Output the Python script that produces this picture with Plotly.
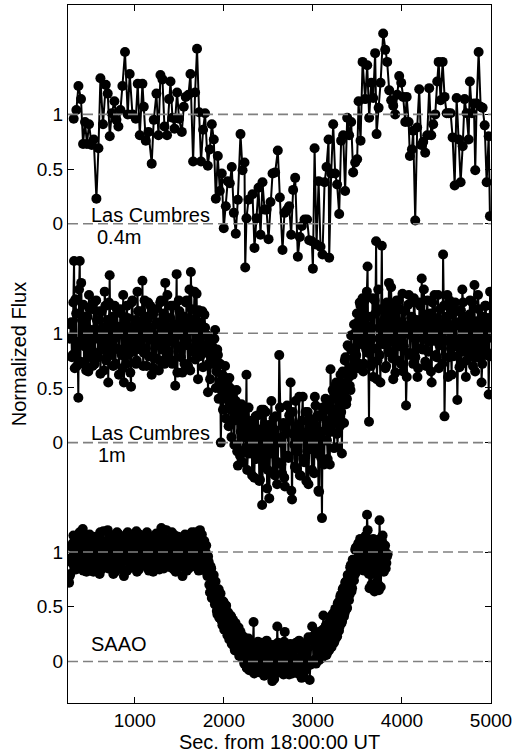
import plotly.graph_objects as go

# ---------------- data ----------------
# Las Cumbres 0.4m (offset +4 in the stacked plot)
t_lc04 = [314, 344, 367, 396, 419, 441, 463, 486, 516, 539,
          569, 592, 614, 643, 674, 696, 719, 741, 771, 794,
          816, 839, 861, 890, 921, 943, 974, 1011, 1033, 1056,
          1086, 1101, 1123, 1153, 1190, 1213, 1243, 1266, 1288, 1311,
          1333, 1362, 1385, 1401, 1423, 1446, 1475, 1497, 1528, 1550,
          1572, 1603, 1625, 1655, 1677, 1699, 1722, 1744, 1767, 1789,
          1820, 1842, 1865, 1887, 1910, 1932, 1955, 1977, 1999, 2022,
          2044, 2067, 2089, 2112, 2134, 2157, 2187, 2210, 2232, 2240,
          2254, 2277, 2322, 2344, 2367, 2389, 2412, 2434, 2457, 2479,
          2502, 2524, 2547, 2576, 2606, 2629, 2659, 2681, 2711, 2733,
          2756, 2778, 2801, 2831, 2853, 2876, 2906, 2935, 2958, 2988,
          3000, 3019, 3041, 3064, 3086, 3108, 3131, 3153, 3176, 3183,
          3205, 3228, 3250, 3272, 3295, 3317, 3340, 3362, 3385, 3407,
          3430, 3452, 3475, 3497, 3513, 3535, 3558, 3587, 3610, 3632,
          3655, 3677, 3699, 3715, 3738, 3760, 3789, 3812, 3834, 3857,
          3879, 3902, 3924, 3947, 3969, 3992, 4014, 4037, 4053, 4075,
          4089, 4112, 4126, 4149, 4171, 4194, 4216, 4239, 4261, 4284,
          4306, 4329, 4351, 4374, 4396, 4412, 4434, 4457, 4479, 4502,
          4524, 4547, 4569, 4592, 4614, 4637, 4659, 4682, 4704, 4726,
          4749, 4763, 4786, 4808, 4823, 4839, 4861, 4884, 4906, 4929,
          4951, 4974, 4988]
f_lc04 = [0.96, 1.04, 1.26, 1.14, 0.73, 0.93, 0.73, 0.91, 0.72, 0.77,
          0.23, 0.69, 1.33, 0.91, 1.27, 1.19, 0.80, 1.01, 1.12, 0.95,
          0.89, 1.04, 1.26, 1.57, 1.00, 1.37, 1.00, 0.96, 1.28, 0.81,
          1.28, 1.07, 0.76, 0.84, 0.55, 0.95, 1.19, 0.81, 1.36, 1.32,
          0.89, 0.81, 1.14, 1.30, 0.97, 0.87, 1.20, 0.96, 0.84, 1.07,
          1.16, 1.18, 1.37, 0.57, 1.20, 1.60, 1.02, 0.57, 0.86, 1.01,
          0.53, 0.68, 0.91, 0.77, 0.23, 0.62, 0.30, 0.46, -0.04, 0.16,
          0.39, 0.37, 0.52, 0.10, -0.09, 0.22, 0.82, 0.49, 0.56, -0.40,
          0.05, 0.22, 0.27, -0.22, 0.05, 0.33, -0.10, 0.38, 0.13, 0.13,
          -0.14, 0.20, 0.46, 0.47, 0.67, 0.24, -0.24, 0.10, 0.13, 0.16,
          -0.10, 0.31, 0.42, -0.30, -0.12, -0.02, 0.04, 0.04, -0.15, -0.16,
          -0.41, 0.69, -0.19, 0.39, -0.21, -0.28, 0.38, 0.52, 0.77, -0.31,
          0.46, 0.91, 0.46, 0.36, 0.09, 0.76, 0.81, 0.30, 0.97, 0.81,
          0.93, 0.47, 0.56, 0.59, 1.12, 0.76, 1.48, 1.14, 1.45, 0.97,
          1.29, 1.15, 1.56, 0.82, 1.06, 1.29, 1.74, 1.59, 1.48, 1.22,
          1.13, 1.08, 1.00, 1.18, 1.35, 1.29, 1.16, 0.93, 1.16, 0.93,
          0.62, 0.68, 0.85, 0.03, 0.88, 1.23, 0.72, 0.75, 0.65, 0.81,
          1.24, 0.81, 0.91, 1.00, 1.30, 1.48, 1.13, 1.48, 1.16, 1.01,
          1.01, 1.01, 0.79, 0.35, 1.15, 0.77, 0.38, 0.71, 1.14, 1.01,
          0.77, 1.30, 1.01, 1.10, 0.49, 1.10, 1.57, 1.07, 1.06, 0.90,
          0.38, 0.80, 0.07]

# Las Cumbres 1m (offset +2), two interleaved sets of exposures
t_lc1a = [270, 286, 302, 318, 334, 350, 366, 382, 398, 414,
          430, 446, 462, 478, 494, 510, 526, 542, 558, 574,
          590, 606, 622, 638, 654, 670, 686, 702, 718, 734,
          750, 766, 782, 798, 814, 830, 846, 862, 878, 894,
          910, 926, 942, 958, 974, 990, 1006, 1022, 1038, 1054,
          1070, 1086, 1102, 1118, 1134, 1150, 1166, 1182, 1198, 1214,
          1230, 1246, 1262, 1278, 1294, 1310, 1326, 1342, 1358, 1374,
          1390, 1406, 1422, 1438, 1454, 1470, 1486, 1502, 1518, 1534,
          1550, 1566, 1582, 1598, 1614, 1630, 1646, 1662, 1678, 1694,
          1710, 1726, 1742, 1758, 1774, 1790, 1806, 1822, 1838, 1854,
          1870, 1886, 1902, 1918, 1934, 1950, 1966, 1982, 1998, 2014,
          2030, 2046, 2062, 2078, 2094, 2110, 2126, 2142, 2158, 2174,
          2190, 2206, 2222, 2238, 2254, 2270, 2286, 2302, 2318, 2334,
          2350, 2366, 2382, 2398, 2414, 2430, 2446, 2462, 2478, 2494,
          2510, 2526, 2542, 2558, 2574, 2590, 2606, 2622, 2638, 2654,
          2670, 2686, 2702, 2718, 2734, 2750, 2766, 2782, 2798, 2814,
          2830, 2846, 2862, 2878, 2894, 2910, 2926, 2942, 2958, 2974,
          2990, 3006, 3022, 3038, 3054, 3070, 3086, 3102, 3118, 3134,
          3150, 3166, 3182, 3198, 3214, 3230, 3246, 3262, 3278, 3294,
          3310, 3326, 3342, 3358, 3374, 3390, 3406, 3422, 3438, 3454,
          3470, 3486, 3502, 3518, 3534, 3550, 3566, 3582, 3598, 3614,
          3630, 3646, 3662, 3678, 3694, 3710, 3726, 3742, 3758, 3774,
          3790, 3806, 3822, 3838, 3854, 3870, 3886, 3902, 3918, 3934,
          3950, 3966, 3982, 3998, 4014, 4030, 4046, 4062, 4078, 4094,
          4110, 4126, 4142, 4158, 4174, 4190, 4206, 4222, 4238, 4254,
          4270, 4286, 4302, 4318, 4334, 4350, 4366, 4382, 4398, 4414,
          4430, 4446, 4462, 4478, 4494, 4510, 4526, 4542, 4558, 4574,
          4590, 4606, 4622, 4638, 4654, 4670, 4686, 4702, 4718, 4734,
          4750, 4766, 4782, 4798, 4814, 4830, 4846, 4862, 4878, 4894,
          4910, 4926, 4942, 4958, 4974, 4990]
f_lc1a = [0.95, 1.10, 0.80, 1.66, 1.31, 0.70, 0.41, 1.66, 1.46, 0.90,
          0.72, 1.15, 1.05, 0.65, 1.22, 0.88, 0.70, 1.28, 0.95, 1.12,
          0.78, 1.20, 0.85, 1.05, 0.66, 1.25, 0.92, 0.55, 1.53, 0.80,
          1.15, 0.95, 0.72, 1.22, 1.00, 0.85, 1.18, 0.68, 0.55, 1.10,
          1.25, 0.80, 1.05, 0.51, 1.30, 0.90, 1.12, 0.75, 1.20, 0.98,
          0.85, 1.48, 0.82, 1.15, 0.70, 1.28, 0.95, 1.05, 0.78, 0.68,
          1.22, 0.90, 1.10, 0.75, 1.30, 0.85, 1.18, 1.46, 0.80, 1.05,
          0.92, 1.25, 0.72, 1.08, 0.52, 1.54, 0.88, 1.20, 0.78, 0.64,
          1.15, 0.95, 1.30, 0.70, 1.40, 1.56, 0.85, 1.12, 0.76, 1.36,
          0.58, 1.10, 0.90, 1.20, 0.82, 1.05, 0.88, 0.46, 0.95, 0.78,
          0.88, 0.72, 1.03, 0.65, 0.80, 0.55, 0.00, 0.62, 0.45, 0.70,
          0.40, 0.52, 0.59, 0.30, 0.45, 0.20, 0.35, 0.48, -0.21, 0.25,
          0.10, 0.32, 0.05, 0.18, 0.62, -0.10, 0.15, -0.05, -0.30, 0.20,
          0.05, -0.15, 0.25, -0.35, 0.10, -0.57, 0.30, -0.20, 0.08, -0.25,
          -0.51, 0.15, -0.10, 0.22, -0.30, 0.05, -0.18, 0.80, 0.00, -0.28,
          0.18, -0.40, 0.10, -0.12, 0.25, 0.55, -0.52, 0.08, -0.22, 0.15,
          -0.08, 0.42, -0.30, 0.20, -0.15, 0.05, -0.35, 0.28, -0.05, 0.12,
          -0.25, 0.18, 0.42, -0.10, 0.25, -0.45, 0.10, -0.69, 0.30, 0.02,
          0.20, -0.15, 0.30, 0.67, 0.10, 0.40, 0.20, 0.55, -0.04, 0.45,
          0.62, -0.10, 0.50, 0.75, 0.35, 0.89, 0.60, 0.48, 0.85, 0.70,
          1.00, 0.80, 1.10, 0.72, 1.25, 0.90, 0.65, 1.30, 0.85, 1.61,
          0.19, 1.15, 0.95, 0.60, 1.30, 1.84, 0.75, 1.05, 0.55, 1.80,
          0.90, 1.20, 0.70, 1.05, 1.46, 0.82, 1.10, 0.58, 1.25, 0.95,
          0.75, 1.30, 0.88, 1.10, 0.65, 1.20, 0.34, 1.00, 1.35, 0.80,
          1.15, 0.72, 1.28, 0.95, 0.60, 1.05, 1.25, 1.50, 0.85, 1.12,
          0.70, 1.30, 0.92, 1.18, 0.55, 1.05, 1.35, 0.80, 1.10, 0.68,
          1.22, 0.90, 1.72, 0.24, 1.15, 1.35, 0.78, 1.05, 0.62, 1.25,
          0.88, 1.10, 0.39, 1.20, 0.95, 0.72, 1.28, 1.00, 0.60, 1.15,
          0.85, 1.30, 0.95, 0.70, 1.44, 1.10, 0.78, 1.22, 0.90, 0.55,
          1.15, 0.80, 1.25, 0.95, 0.44, 1.38]
t_lc1b = [278, 294, 310, 326, 342, 358, 374, 390, 406, 422,
          438, 454, 470, 486, 502, 518, 534, 550, 566, 582,
          598, 614, 630, 646, 662, 678, 694, 710, 726, 742,
          758, 774, 790, 806, 822, 838, 854, 870, 886, 902,
          918, 934, 950, 966, 982, 998, 1014, 1030, 1046, 1062,
          1078, 1094, 1110, 1126, 1142, 1158, 1174, 1190, 1206, 1222,
          1238, 1254, 1270, 1286, 1302, 1318, 1334, 1350, 1366, 1382,
          1398, 1414, 1430, 1446, 1462, 1478, 1494, 1510, 1526, 1542,
          1558, 1574, 1590, 1606, 1622, 1638, 1654, 1670, 1686, 1702,
          1718, 1734, 1750, 1766, 1782, 1798, 1814, 1830, 1846, 1862,
          1878, 1894, 1910, 1926, 1942, 1958, 1974, 1990, 2006, 2022,
          2038, 2054, 2070, 2086, 2102, 2118, 2134, 2150, 2166, 2182,
          2198, 2214, 2230, 2246, 2262, 2278, 2294, 2310, 2326, 2342,
          2358, 2374, 2390, 2406, 2422, 2438, 2454, 2470, 2486, 2502,
          2518, 2534, 2550, 2566, 2582, 2598, 2614, 2630, 2646, 2662,
          2678, 2694, 2710, 2726, 2742, 2758, 2774, 2790, 2806, 2822,
          2838, 2854, 2870, 2886, 2902, 2918, 2934, 2950, 2966, 2982,
          2998, 3014, 3030, 3046, 3062, 3078, 3094, 3110, 3126, 3142,
          3158, 3174, 3190, 3206, 3222, 3238, 3254, 3270, 3286, 3302,
          3318, 3334, 3350, 3366, 3382, 3398, 3414, 3430, 3446, 3462,
          3478, 3494, 3510, 3526, 3542, 3558, 3574, 3590, 3606, 3622,
          3638, 3654, 3670, 3686, 3702, 3718, 3734, 3750, 3766, 3782,
          3798, 3814, 3830, 3846, 3862, 3878, 3894, 3910, 3926, 3942,
          3958, 3974, 3990, 4006, 4022, 4038, 4054, 4070, 4086, 4102,
          4118, 4134, 4150, 4166, 4182, 4198, 4214, 4230, 4246, 4262,
          4278, 4294, 4310, 4326, 4342, 4358, 4374, 4390, 4406, 4422,
          4438, 4454, 4470, 4486, 4502, 4518, 4534, 4550, 4566, 4582,
          4598, 4614, 4630, 4646, 4662, 4678, 4694, 4710, 4726, 4742,
          4758, 4774, 4790, 4806, 4822, 4838, 4854, 4870, 4886, 4902,
          4918, 4934, 4950, 4966, 4982, 4998]
f_lc1b = [1.08, 0.78, 1.28, 0.68, 1.18, 0.92, 1.40, 0.74, 1.12, 1.26,
          0.88, 0.66, 1.15, 1.35, 0.78, 1.03, 1.22, 0.72, 1.30, 0.82,
          1.00, 0.63, 1.20, 0.92, 1.38, 0.75, 1.12, 1.28, 0.86, 1.07,
          0.70, 1.25, 0.86, 1.06, 0.62, 1.22, 0.80, 1.35, 0.97, 0.72,
          1.14, 0.93, 0.64, 1.28, 0.83, 1.08, 0.72, 1.38, 0.88, 1.20,
          1.03, 0.70, 1.30, 0.86, 1.12, 0.79, 1.25, 0.62, 1.17, 0.94,
          0.77, 1.08, 0.66, 1.28, 0.92, 1.17, 0.72, 1.03, 1.35, 0.83,
          1.14, 0.75, 1.25, 0.93, 1.07, 0.64, 1.30, 0.86, 1.11, 0.97,
          0.72, 1.28, 0.89, 1.08, 0.66, 1.22, 0.83, 1.38, 0.93, 1.03,
          1.21, 0.79, 1.07, 0.69, 1.17, 0.89, 0.98, 0.72, 0.58, 0.84,
          0.72, 0.95, 0.50, 0.85, 0.40, 0.72, 0.48, 0.30, 0.60, 0.22,
          0.55, 0.15, 0.50, 0.05, 0.42, -0.02, 0.38, -0.08, 0.30, -0.12,
          0.35, -0.18, 0.28, -0.05, -0.25, 0.32, -0.10, 0.20, 0.08, -0.32,
          0.24, -0.12, 0.12, -0.34, 0.30, -0.02, -0.22, 0.28, -0.42, 0.16,
          -0.10, 0.38, -0.28, 0.12, 0.24, -0.38, 0.04, 0.32, -0.20, 0.15,
          -0.32, 0.08, 0.34, -0.14, 0.20, -0.44, 0.28, -0.02, 0.38, -0.24,
          0.16, -0.30, 0.08, 0.42, -0.18, 0.28, 0.03, -0.38, 0.22, -0.06,
          0.12, -0.28, 0.34, -0.02, -0.44, 0.24, -0.14, 0.32, -0.20, 0.40,
          0.02, 0.38, -0.20, 0.30, 0.48, -0.05, 0.52, 0.08, 0.45, 0.15,
          0.28, 0.65, 0.18, 0.78, 0.40, 0.88, 0.52, 0.98, 0.62, 1.08,
          0.78, 1.18, 0.68, 1.28, 0.92, 1.32, 0.72, 1.15, 1.38, 0.82,
          1.05, 0.70, 1.32, 0.86, 1.18, 0.58, 1.40, 0.80, 1.22, 0.92,
          1.12, 0.68, 1.28, 0.84, 1.03, 1.42, 0.77, 1.18, 0.64, 1.30,
          0.93, 1.22, 0.72, 1.36, 0.88, 1.07, 0.60, 1.26, 0.82, 1.14,
          0.97, 1.32, 0.78, 1.12, 0.68, 1.28, 0.86, 1.03, 1.40, 0.74,
          1.17, 0.83, 1.07, 0.65, 1.28, 0.93, 1.14, 0.78, 1.35, 0.89,
          1.07, 0.72, 1.25, 0.93, 1.11, 0.60, 1.30, 0.86, 1.17, 0.79,
          1.28, 0.89, 1.07, 0.69, 1.21, 1.40, 0.83, 1.14, 0.75, 1.03,
          1.17, 0.79, 1.28, 0.97, 0.65, 1.11, 1.35, 0.86, 1.07, 0.72,
          1.00, 1.25, 0.83, 1.14, 0.79, 1.03]

# SAAO (offset 0), two interleaved sets of exposures
t_saao_a = [262, 276, 290, 304, 318, 332, 346, 360, 374, 388,
            402, 416, 430, 444, 458, 472, 486, 500, 514, 528,
            542, 556, 570, 584, 598, 612, 626, 640, 654, 668,
            682, 696, 710, 724, 738, 752, 766, 780, 794, 808,
            822, 836, 850, 864, 878, 892, 906, 920, 934, 948,
            962, 976, 990, 1004, 1018, 1032, 1046, 1060, 1074, 1088,
            1102, 1116, 1130, 1144, 1158, 1172, 1186, 1200, 1214, 1228,
            1242, 1256, 1270, 1284, 1298, 1312, 1326, 1340, 1354, 1368,
            1382, 1396, 1410, 1424, 1438, 1452, 1466, 1480, 1494, 1508,
            1522, 1536, 1550, 1564, 1578, 1592, 1606, 1620, 1634, 1648,
            1662, 1676, 1690, 1704, 1718, 1732, 1746, 1760, 1774, 1788,
            1802, 1816, 1830, 1844, 1858, 1872, 1886, 1900, 1914, 1928,
            1942, 1956, 1970, 1984, 1998, 2012, 2026, 2040, 2054, 2068,
            2082, 2096, 2110, 2124, 2138, 2152, 2166, 2180, 2194, 2208,
            2222, 2236, 2250, 2264, 2278, 2292, 2306, 2320, 2334, 2348,
            2362, 2376, 2390, 2404, 2418, 2432, 2446, 2460, 2474, 2488,
            2502, 2516, 2530, 2544, 2558, 2572, 2586, 2600, 2614, 2628,
            2642, 2656, 2670, 2684, 2698, 2712, 2726, 2740, 2754, 2768,
            2782, 2796, 2810, 2824, 2838, 2852, 2866, 2880, 2894, 2908,
            2922, 2936, 2950, 2964, 2978, 2992, 3006, 3020, 3034, 3048,
            3062, 3076, 3090, 3104, 3118, 3132, 3146, 3160, 3174, 3188,
            3202, 3216, 3230, 3244, 3258, 3272, 3286, 3300, 3314, 3328,
            3342, 3356, 3370, 3384, 3398, 3412, 3426, 3440, 3454, 3468,
            3482, 3496, 3510, 3524, 3538, 3552, 3566, 3580, 3594, 3608,
            3622, 3636, 3650, 3664, 3678, 3692, 3706, 3720, 3734, 3748,
            3762, 3776, 3790, 3804, 3818, 3832]
f_saao_a = [0.72, 0.80, 0.95, 1.08, 0.88, 1.12, 0.92, 1.02, 0.85, 1.10,
            0.95, 1.21, 0.90, 1.05, 0.82, 1.15, 0.98, 1.08, 0.88, 1.02,
            1.12, 0.86, 0.99, 1.06, 0.92, 1.18, 0.84, 1.04, 0.95, 1.10,
            0.90, 1.20, 1.00, 0.87, 1.08, 0.95, 1.14, 0.82, 1.03, 0.97,
            1.16, 0.88, 1.05, 0.93, 0.78, 1.12, 0.96, 1.18, 0.85, 1.02,
            0.92, 1.14, 0.86, 1.06, 1.19, 0.95, 0.84, 1.10, 0.98, 1.04,
            0.88, 1.15, 0.94, 1.02, 0.83, 1.12, 1.00, 0.90, 1.08, 0.96,
            1.17, 0.87, 1.05, 0.92, 1.22, 1.10, 0.85, 1.03, 1.20, 0.94,
            0.89, 1.12, 0.98, 1.06, 0.84, 1.15, 0.92, 1.04, 0.86, 1.10,
            0.97, 0.78, 1.08, 1.16, 0.90, 1.02, 0.85, 1.12, 0.95, 1.05,
            0.88, 1.18, 0.96, 1.09, 0.83, 1.20, 0.98, 0.90, 1.06, 0.92,
            1.06, 0.78, 0.91, 0.63, 0.85, 0.63, 0.79, 0.52, 0.64, 0.43,
            0.66, 0.41, 0.55, 0.33, 0.54, 0.37, 0.51, 0.24, 0.42, 0.21,
            0.41, 0.17, 0.33, 0.10, 0.31, 0.13, 0.31, 0.06, 0.22, 0.03,
            0.21, -0.01, 0.21, 0.02, 0.21, -0.05, 0.14, -0.03, 0.36, 0.01,
            0.15, -0.08, 0.12, -0.10, 0.17, -0.02, 0.10, -0.12, 0.14, 0.00,
            0.16, -0.08, 0.12, -0.18, 0.08, 0.15, -0.05, 0.32, -0.10, 0.13,
            -0.03, 0.16, -0.12, 0.27, 0.05, -0.07, 0.15, -0.02, 0.12, -0.11,
            0.12, -0.06, 0.17, -0.01, 0.14, -0.09, 0.10, 0.16, -0.13, 0.12,
            -0.06, 0.18, 0.22, -0.17, 0.21, 0.32, 0.00, 0.24, -0.02, 0.26,
            0.27, 0.04, 0.27, 0.04, 0.42, 0.09, 0.33, 0.08, 0.32, 0.13,
            0.41, 0.16, 0.44, 0.19, 0.47, 0.23, 0.54, 0.32, 0.61, 0.37,
            0.67, 0.44, 0.73, 0.49, 0.79, 0.61, 0.88, 0.67, 0.93, 0.79,
            1.04, 0.84, 1.08, 0.90, 1.10, 0.98, 1.06, 0.86, 1.15, 1.34,
            0.95, 0.67, 1.05, 0.80, 1.12, 0.64, 0.88, 1.02, 0.70, 1.29,
            0.68, 1.10, 0.90, 1.02, 0.85, 0.96]
t_saao_b = [269, 283, 297, 311, 325, 339, 353, 367, 381, 395,
            409, 423, 437, 451, 465, 479, 493, 507, 521, 535,
            549, 563, 577, 591, 605, 619, 633, 647, 661, 675,
            689, 703, 717, 731, 745, 759, 773, 787, 801, 815,
            829, 843, 857, 871, 885, 899, 913, 927, 941, 955,
            969, 983, 997, 1011, 1025, 1039, 1053, 1067, 1081, 1095,
            1109, 1123, 1137, 1151, 1165, 1179, 1193, 1207, 1221, 1235,
            1249, 1263, 1277, 1291, 1305, 1319, 1333, 1347, 1361, 1375,
            1389, 1403, 1417, 1431, 1445, 1459, 1473, 1487, 1501, 1515,
            1529, 1543, 1557, 1571, 1585, 1599, 1613, 1627, 1641, 1655,
            1669, 1683, 1697, 1711, 1725, 1739, 1753, 1767, 1781, 1795,
            1809, 1823, 1837, 1851, 1865, 1879, 1893, 1907, 1921, 1935,
            1949, 1963, 1977, 1991, 2005, 2019, 2033, 2047, 2061, 2075,
            2089, 2103, 2117, 2131, 2145, 2159, 2173, 2187, 2201, 2215,
            2229, 2243, 2257, 2271, 2285, 2299, 2313, 2327, 2341, 2355,
            2369, 2383, 2397, 2411, 2425, 2439, 2453, 2467, 2481, 2495,
            2509, 2523, 2537, 2551, 2565, 2579, 2593, 2607, 2621, 2635,
            2649, 2663, 2677, 2691, 2705, 2719, 2733, 2747, 2761, 2775,
            2789, 2803, 2817, 2831, 2845, 2859, 2873, 2887, 2901, 2915,
            2929, 2943, 2957, 2971, 2985, 2999, 3013, 3027, 3041, 3055,
            3069, 3083, 3097, 3111, 3125, 3139, 3153, 3167, 3181, 3195,
            3209, 3223, 3237, 3251, 3265, 3279, 3293, 3307, 3321, 3335,
            3349, 3363, 3377, 3391, 3405, 3419, 3433, 3447, 3461, 3475,
            3489, 3503, 3517, 3531, 3545, 3559, 3573, 3587, 3601, 3615,
            3629, 3643, 3657, 3671, 3685, 3699, 3713, 3727, 3741, 3755,
            3769, 3783, 3797, 3811, 3825, 3839]
f_saao_b = [0.78, 1.05, 0.90, 1.15, 0.98, 0.84, 1.10, 0.93, 1.18, 0.88,
            1.04, 0.83, 1.12, 0.96, 1.08, 0.86, 1.16, 0.92, 1.02, 0.82,
            0.97, 1.14, 0.88, 1.05, 0.80, 1.10, 0.94, 1.19, 0.87, 1.00,
            1.08, 0.85, 1.16, 0.94, 1.02, 0.80, 1.12, 0.96, 1.18, 0.89,
            0.98, 1.10, 0.84, 1.14, 0.92, 1.05, 0.83, 1.00, 1.15, 0.90,
            1.06, 0.86, 1.12, 0.95, 0.82, 1.08, 1.16, 0.90, 1.02, 0.88,
            1.10, 0.95, 1.18, 0.85, 1.04, 0.92, 1.14, 0.82, 0.98, 1.12,
            0.90, 1.06, 0.84, 1.15, 0.96, 1.02, 1.20, 0.88, 1.08, 0.93,
            1.05, 0.86, 1.18, 0.94, 1.10, 0.82, 1.03, 1.14, 0.90, 0.98,
            1.12, 0.88, 0.96, 1.06, 0.83, 1.15, 0.92, 1.04, 1.18, 0.87,
            1.02, 0.90, 1.12, 0.85, 1.06, 0.94, 1.16, 0.88, 1.10, 1.00,
            0.81, 0.96, 0.70, 0.87, 0.58, 0.77, 0.56, 0.73, 0.46, 0.65,
            0.40, 0.62, 0.37, 0.55, 0.29, 0.51, 0.29, 0.45, 0.20, 0.42,
            0.16, 0.38, 0.13, 0.35, 0.10, 0.28, 0.05, 0.27, 0.04, 0.23,
            -0.02, 0.20, -0.06, 0.18, -0.08, 0.16, -0.04, 0.15, -0.11, 0.14,
            0.02, 0.18, -0.09, 0.11, -0.04, 0.16, -0.13, 0.08, 0.19, -0.06,
            0.10, -0.12, 0.15, 0.02, -0.16, 0.12, -0.03, 0.17, 0.04, -0.09,
            0.13, -0.05, 0.18, -0.10, 0.09, 0.01, -0.12, 0.16, -0.04, 0.11,
            -0.07, 0.15, 0.03, -0.11, 0.19, 0.00, -0.15, 0.13, 0.05, -0.08,
            0.17, -0.04, 0.19, -0.03, 0.22, 0.00, 0.23, 0.02, 0.25, 0.01,
            0.01, 0.26, 0.03, 0.29, 0.05, 0.31, 0.06, 0.34, 0.10, 0.39,
            0.13, 0.43, 0.17, 0.48, 0.22, 0.53, 0.28, 0.59, 0.35, 0.66,
            0.41, 0.72, 0.48, 0.79, 0.56, 0.86, 0.64, 0.93, 0.74, 1.02,
            0.82, 1.06, 0.86, 1.12, 0.88, 1.05, 0.83, 1.10, 0.92, 1.20,
            0.80, 1.08, 0.70, 0.98, 0.66, 1.05, 0.72, 0.92, 0.65, 1.12,
            0.88, 1.15, 0.82, 1.06, 0.90, 0.98]

series_names = ["SAAO", "Las Cumbres 1m", "Las Cumbres 0.4m"]
offsets = [0, 2, 4]
ref_levels = [0, 1]
tick_vals = [0, 0.5, 1, 2, 2.5, 3, 4, 4.5, 5]
tick_text = ["0", "0.5", "1", "0", "0.5", "1", "0", "0.5", "1"]
x_ticks = [1000, 2000, 3000, 4000, 5000]

FONT = "Arial, Liberation Sans, Helvetica, sans-serif"


def merge(ta, fa, tb, fb):
    pts = sorted(zip(ta + tb, fa + fb))
    return [p[0] for p in pts], [p[1] for p in pts]


t_lc1, f_lc1 = merge(t_lc1a, f_lc1a, t_lc1b, f_lc1b)
t_saao, f_saao = merge(t_saao_a, f_saao_a, t_saao_b, f_saao_b)

fig = go.Figure()
for name, t, f, off in zip(series_names,
                           [t_saao, t_lc1, t_lc04],
                           [f_saao, f_lc1, f_lc04], offsets):
    fig.add_trace(go.Scatter(
        x=t, y=[v + off for v in f], mode="lines+markers", name=name,
        line=dict(color="black", width=2),
        marker=dict(color="black", size=10),
        showlegend=False))

# dashed reference lines at 0 and 1 of each curve
for off in offsets:
    for lv in ref_levels:
        fig.add_shape(type="line", xref="paper", x0=0, x1=1,
                      yref="y", y0=off + lv, y1=off + lv,
                      line=dict(color="#808080", width=1.6, dash="10px,5px"),
                      layer="above")

labels = [("Las Cumbres", 483, 4.08), ("0.4m", 550, 3.88),
          ("Las Cumbres", 483, 2.086), ("1m", 561, 1.89),
          ("SAAO", 483, 0.157)]
for txt, xx, yy in labels:
    fig.add_annotation(x=xx, y=yy, text=txt, showarrow=False,
                       xanchor="left", yanchor="middle",
                       font=dict(family=FONT, size=20, color="black"))

fig.update_layout(
    width=514, height=753,
    margin=dict(l=68, r=23, t=5, b=50),
    paper_bgcolor="white", plot_bgcolor="white",
    font=dict(family=FONT, size=19, color="black"),
)
fig.update_xaxes(range=[250, 5000], tickvals=x_ticks, automargin=False,
                 ticks="inside", ticklen=6, tickcolor="black",
                 showline=True, linecolor="black", linewidth=1.2,
                 mirror="ticks", showgrid=False, zeroline=False,
                 title=dict(text="Sec. from 18:00:00 UT", font=dict(size=20), standoff=0),
                 tickfont=dict(size=19))
fig.update_yaxes(range=[-0.38, 6.0], tickvals=tick_vals, ticktext=tick_text,
                 automargin=False,
                 ticks="inside", ticklen=6, tickcolor="black",
                 showline=True, linecolor="black", linewidth=1.2,
                 mirror="ticks", showgrid=False, zeroline=False,
                 title=dict(text="Normalized Flux", font=dict(size=20), standoff=4),
                 tickfont=dict(size=19))

fig.write_html("out.html", config={"displayModeBar": False},
               post_script="document.body.style.margin='0px';document.body.style.overflow='hidden';")
